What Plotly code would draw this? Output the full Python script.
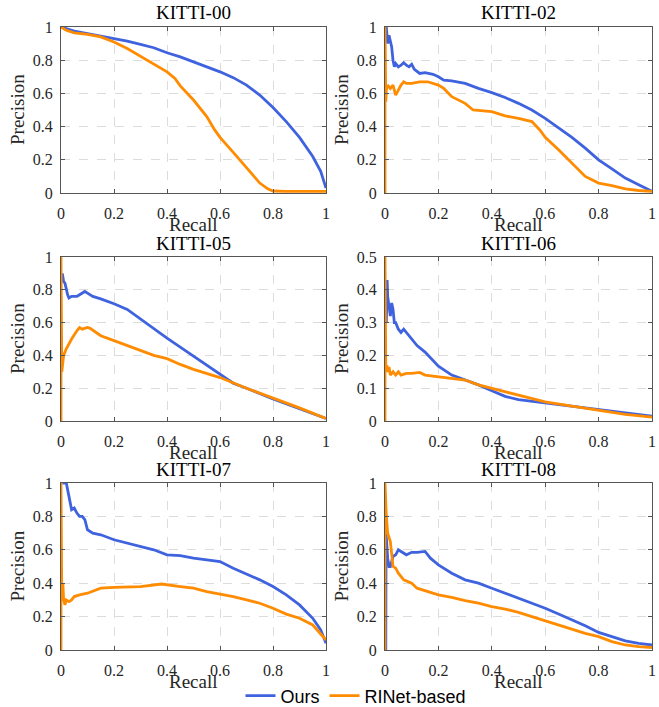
import plotly.graph_objects as go

titles = ["KITTI-00", "KITTI-02", "KITTI-05", "KITTI-06", "KITTI-07", "KITTI-08"]
series_names = ["Ours", "RINet-based"]

# KITTI-00
ours_00_r = [0, 0.02, 0.05, 0.1, 0.15, 0.2, 0.25, 0.3, 0.35, 0.4, 0.45, 0.5, 0.55, 0.6, 0.65, 0.7, 0.75, 0.8, 0.85, 0.9, 0.95, 0.98, 1.0]
ours_00_p = [1.0, 0.99, 0.975, 0.96, 0.945, 0.93, 0.915, 0.895, 0.875, 0.845, 0.82, 0.79, 0.76, 0.73, 0.695, 0.65, 0.59, 0.515, 0.43, 0.335, 0.22, 0.13, 0.03]
rinet_00_r = [0, 0.02, 0.05, 0.1, 0.15, 0.2, 0.25, 0.3, 0.35, 0.4, 0.43, 0.45, 0.5, 0.55, 0.58, 0.6, 0.65, 0.7, 0.75, 0.78, 0.8, 0.85, 1.0]
rinet_00_p = [1.0, 0.98, 0.965, 0.955, 0.94, 0.91, 0.87, 0.825, 0.78, 0.73, 0.69, 0.645, 0.56, 0.46, 0.38, 0.335, 0.245, 0.15, 0.06, 0.025, 0.012, 0.01, 0.01]

# KITTI-02
ours_02_r = [0.005, 0.01, 0.015, 0.02, 0.025, 0.03, 0.035, 0.04, 0.05, 0.06, 0.07, 0.08, 0.09, 0.1, 0.11, 0.13, 0.15, 0.18, 0.2, 0.22, 0.25, 0.3, 0.35, 0.4, 0.45, 0.5, 0.55, 0.6, 0.65, 0.7, 0.75, 0.8, 0.85, 0.9, 0.95, 1.0]
ours_02_p = [1.0, 0.9, 0.95, 0.92, 0.88, 0.8, 0.76, 0.78, 0.76, 0.77, 0.785, 0.77, 0.76, 0.775, 0.745, 0.72, 0.725, 0.715, 0.7, 0.68, 0.675, 0.66, 0.63, 0.605, 0.575, 0.54, 0.5, 0.45, 0.395, 0.335, 0.27, 0.2, 0.145, 0.09, 0.05, 0.01]
rinet_02_r = [0, 0, 0.003, 0.005, 0.01, 0.02, 0.03, 0.04, 0.05, 0.06, 0.07, 0.08, 0.1, 0.13, 0.16, 0.2, 0.22, 0.25, 0.3, 0.33, 0.4, 0.45, 0.5, 0.55, 0.58, 0.6, 0.65, 0.7, 0.75, 0.8, 0.85, 0.9, 0.95, 1.0]
rinet_02_p = [0, 1.0, 0.55, 0.62, 0.65, 0.63, 0.65, 0.59, 0.62, 0.65, 0.67, 0.66, 0.66, 0.67, 0.67, 0.65, 0.63, 0.58, 0.54, 0.5, 0.49, 0.465, 0.45, 0.43, 0.38, 0.335, 0.26, 0.18, 0.1, 0.06, 0.045, 0.025, 0.015, 0.01]

# KITTI-05
ours_05_r = [0.005, 0.01, 0.015, 0.02, 0.025, 0.03, 0.04, 0.05, 0.06, 0.07, 0.09, 0.1, 0.12, 0.15, 0.2, 0.25, 0.3, 0.35, 0.4, 0.45, 0.5, 0.55, 0.6, 0.65, 0.7, 0.8, 0.9, 1.0]
ours_05_p = [0.9, 0.85, 0.84, 0.8, 0.77, 0.75, 0.76, 0.76, 0.76, 0.77, 0.79, 0.78, 0.76, 0.745, 0.715, 0.68, 0.62, 0.56, 0.505, 0.45, 0.395, 0.34, 0.28, 0.23, 0.2, 0.135, 0.075, 0.015]
rinet_05_r = [0, 0, 0.003, 0.01, 0.02, 0.04, 0.06, 0.07, 0.08, 0.1, 0.11, 0.13, 0.15, 0.2, 0.25, 0.3, 0.35, 0.4, 0.45, 0.5, 0.6, 0.7, 0.8, 0.9, 1.0]
rinet_05_p = [0, 1.0, 0.3, 0.4, 0.44, 0.5, 0.55, 0.57, 0.56, 0.57, 0.565, 0.54, 0.52, 0.49, 0.46, 0.43, 0.4, 0.38, 0.345, 0.315, 0.265, 0.2, 0.14, 0.08, 0.015]

# KITTI-06
ours_06_r = [0.005, 0.008, 0.01, 0.015, 0.02, 0.025, 0.03, 0.035, 0.04, 0.05, 0.06, 0.07, 0.08, 0.1, 0.12, 0.15, 0.18, 0.2, 0.25, 0.3, 0.35, 0.4, 0.45, 0.5, 0.55, 0.6, 0.7, 0.8, 0.9, 1.0]
ours_06_p = [0.3, 0.43, 0.38, 0.35, 0.32, 0.36, 0.34, 0.3, 0.3, 0.28, 0.27, 0.28, 0.27, 0.25, 0.23, 0.21, 0.185, 0.167, 0.14, 0.125, 0.11, 0.092, 0.075, 0.065, 0.06, 0.054, 0.045, 0.035, 0.025, 0.015]
rinet_06_r = [0, 0, 0.003, 0.007, 0.01, 0.015, 0.02, 0.03, 0.04, 0.05, 0.06, 0.08, 0.1, 0.13, 0.15, 0.2, 0.25, 0.3, 0.35, 0.4, 0.45, 0.5, 0.55, 0.6, 0.7, 0.8, 0.9, 1.0]
rinet_06_p = [0, 0.5, 0.15, 0.17, 0.15, 0.165, 0.14, 0.15, 0.14, 0.15, 0.14, 0.145, 0.145, 0.148, 0.14, 0.135, 0.13, 0.125, 0.11, 0.1, 0.09, 0.078, 0.07, 0.058, 0.045, 0.033, 0.02, 0.012]

# KITTI-07
ours_07_r = [0.005, 0.02, 0.03, 0.04, 0.05, 0.06, 0.07, 0.08, 0.09, 0.1, 0.12, 0.15, 0.2, 0.25, 0.3, 0.35, 0.4, 0.45, 0.5, 0.55, 0.6, 0.65, 0.7, 0.75, 0.8, 0.85, 0.9, 0.95, 0.98, 1.0]
ours_07_p = [1.0, 1.0, 0.92, 0.84, 0.85, 0.82, 0.8, 0.8, 0.78, 0.72, 0.7, 0.69, 0.66, 0.64, 0.62, 0.6, 0.57, 0.565, 0.55, 0.54, 0.53, 0.49, 0.455, 0.42, 0.38, 0.33, 0.27, 0.19, 0.12, 0.04]
rinet_07_r = [0, 0, 0.003, 0.007, 0.01, 0.015, 0.02, 0.03, 0.04, 0.05, 0.07, 0.1, 0.15, 0.2, 0.3, 0.38, 0.45, 0.5, 0.55, 0.6, 0.65, 0.7, 0.75, 0.8, 0.85, 0.9, 0.95, 1.0]
rinet_07_p = [0, 1.0, 0.3, 0.4, 0.3, 0.27, 0.3, 0.29, 0.3, 0.32, 0.33, 0.34, 0.37, 0.375, 0.38, 0.395, 0.38, 0.37, 0.35, 0.335, 0.32, 0.3, 0.28, 0.25, 0.215, 0.19, 0.15, 0.06]

# KITTI-08
ours_08_r = [0.003, 0.004, 0.01, 0.015, 0.02, 0.03, 0.04, 0.05, 0.06, 0.08, 0.1, 0.12, 0.15, 0.17, 0.2, 0.25, 0.3, 0.35, 0.4, 0.45, 0.5, 0.55, 0.6, 0.65, 0.7, 0.75, 0.8, 0.85, 0.9, 0.95, 1.0]
ours_08_p = [0.0, 0.7, 0.55, 0.5, 0.5, 0.56, 0.57, 0.6, 0.59, 0.57, 0.585, 0.585, 0.59, 0.55, 0.51, 0.46, 0.42, 0.4, 0.37, 0.34, 0.31, 0.28, 0.25, 0.215, 0.18, 0.145, 0.105, 0.08, 0.055, 0.04, 0.03]
rinet_08_r = [0, 0, 0.005, 0.01, 0.02, 0.025, 0.03, 0.04, 0.05, 0.07, 0.1, 0.12, 0.15, 0.2, 0.25, 0.3, 0.35, 0.4, 0.45, 0.5, 0.55, 0.6, 0.65, 0.7, 0.75, 0.8, 0.85, 0.9, 0.95, 1.0]
rinet_08_p = [0, 1.0, 0.8, 0.7, 0.65, 0.55, 0.5, 0.49, 0.46, 0.42, 0.4, 0.37, 0.355, 0.33, 0.315, 0.295, 0.28, 0.26, 0.245, 0.225, 0.2, 0.175, 0.15, 0.125, 0.1, 0.08, 0.05, 0.03, 0.02, 0.015]

y_max = [1, 1, 1, 0.5, 1, 1]
y_ticks = [
    [0, 0.2, 0.4, 0.6, 0.8, 1],
    [0, 0.2, 0.4, 0.6, 0.8, 1],
    [0, 0.2, 0.4, 0.6, 0.8, 1],
    [0, 0.1, 0.2, 0.3, 0.4, 0.5],
    [0, 0.2, 0.4, 0.6, 0.8, 1],
    [0, 0.2, 0.4, 0.6, 0.8, 1],
]
x_ticks = [0, 0.2, 0.4, 0.6, 0.8, 1]

panels = [
    (ours_00_r, ours_00_p, rinet_00_r, rinet_00_p),
    (ours_02_r, ours_02_p, rinet_02_r, rinet_02_p),
    (ours_05_r, ours_05_p, rinet_05_r, rinet_05_p),
    (ours_06_r, ours_06_p, rinet_06_r, rinet_06_p),
    (ours_07_r, ours_07_p, rinet_07_r, rinet_07_p),
    (ours_08_r, ours_08_p, rinet_08_r, rinet_08_p),
]

W, H = 659, 707
BLUE = "#3F63DE"
ORANGE = "#FF8C00"
SERIF = "Liberation Serif, Times New Roman, serif"
SANS = "Liberation Sans, Arial, sans-serif"

# pixel boxes (left, right, top, bottom)
cols = [(61, 326), (385, 652)]
rows = [(27, 193), (257, 421), (483, 650)]

fig = go.Figure()
layout = dict(
    width=W, height=H,
    margin=dict(l=0, r=0, t=0, b=0, autoexpand=False),
    paper_bgcolor="white", plot_bgcolor="white",
    font=dict(family=SERIF),
    showlegend=True,
    legend=dict(orientation="h", x=356 / W, xanchor="center", y=1 - 696 / H, yanchor="middle",
                font=dict(family=SANS, size=18, color="black"), bgcolor="rgba(0,0,0,0)",
                itemwidth=30, tracegroupgap=0),
)
annotations = []

for i, (orr, op, rr, rp) in enumerate(panels):
    r, c = divmod(i, 2)
    l, rgt = cols[c]
    t, b = rows[r]
    xa = "xaxis" if i == 0 else f"xaxis{i+1}"
    ya = "yaxis" if i == 0 else f"yaxis{i+1}"
    xref = "x" if i == 0 else f"x{i+1}"
    yref = "y" if i == 0 else f"y{i+1}"
    fig.add_trace(go.Scatter(x=orr, y=op, mode="lines", line=dict(color=BLUE, width=2.8),
                             name=series_names[0], showlegend=(i == 0), legendgroup="ours",
                             xaxis=xref, yaxis=yref))
    fig.add_trace(go.Scatter(x=rr, y=rp, mode="lines", line=dict(color=ORANGE, width=2.8),
                             name=series_names[1], showlegend=(i == 0), legendgroup="rinet",
                             xaxis=xref, yaxis=yref))
    common = dict(showline=True, linecolor="#555555", linewidth=1, mirror="ticks",
                  ticks="inside", ticklen=4, tickcolor="#555555", automargin=False,
                  showgrid=True, gridcolor="#dcdcdc", griddash="dash", gridwidth=1,
                  zeroline=False, tickfont=dict(family=SERIF, size=16, color="#262626"))
    layout[xa] = dict(common, domain=[l / W, rgt / W], range=[0, 1], tickvals=x_ticks,
                      ticktext=[f"{v:g}" for v in x_ticks], anchor=yref, ticklabelstandoff=6)
    layout[ya] = dict(common, domain=[1 - b / H, 1 - t / H], range=[0, y_max[i]], tickvals=y_ticks[i],
                      ticktext=[f"{v:g}" for v in y_ticks[i]], anchor=xref, ticklabelstandoff=4)
    cx = (l + rgt) / 2
    annotations.append(dict(text=titles[i], x=cx / W, y=1 - (t - 14) / H, xref="paper", yref="paper",
                            xanchor="center", yanchor="middle", showarrow=False,
                            font=dict(family=SERIF, size=19, color="black")))
    annotations.append(dict(text="Recall", x=cx / W, y=1 - (b + 31) / H, xref="paper", yref="paper",
                            xanchor="center", yanchor="middle", showarrow=False,
                            font=dict(family=SERIF, size=19, color="#262626")))
    annotations.append(dict(text="Precision", x=(l - 44) / W, y=1 - ((t + b) / 2) / H, xref="paper", yref="paper",
                            xanchor="center", yanchor="middle", showarrow=False, textangle=-90,
                            font=dict(family=SERIF, size=19, color="#262626")))

layout["annotations"] = annotations
fig.update_layout(**layout)
fig.write_html("out.html", config={"displayModeBar": False},
               post_script="document.body.style.margin='0';document.body.style.overflow='hidden';")
